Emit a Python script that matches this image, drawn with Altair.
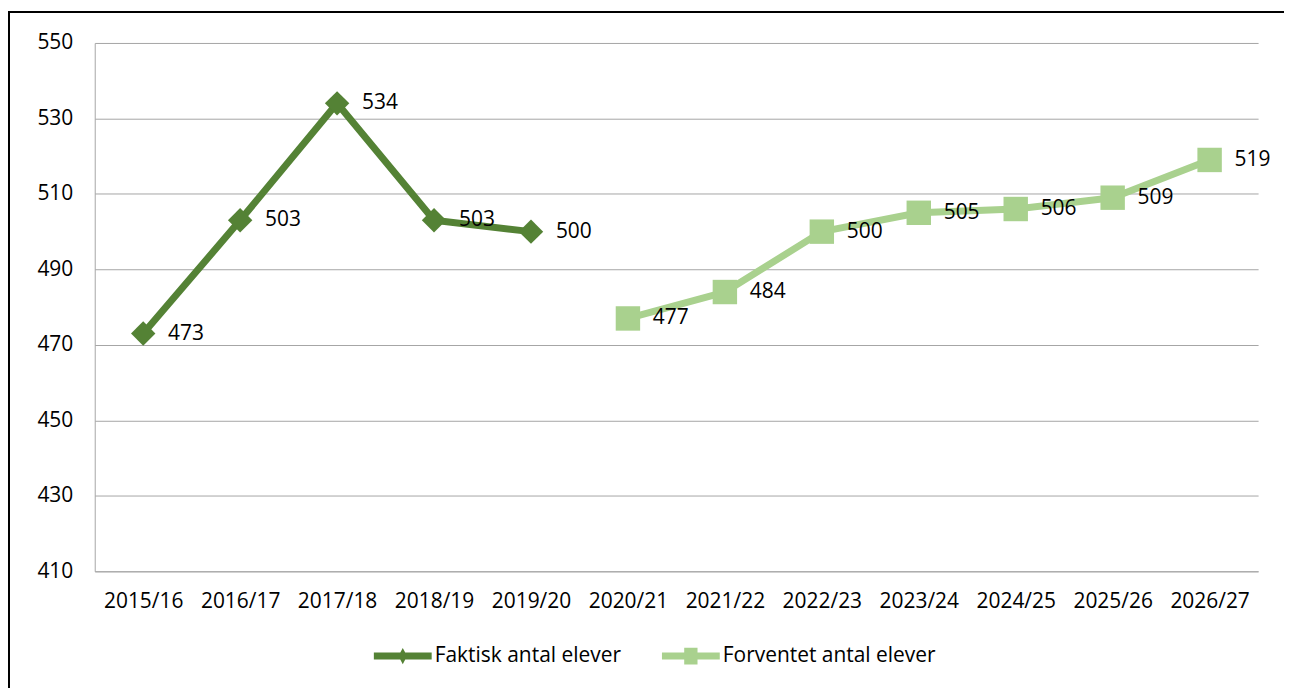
import altair as alt
import pandas as pd

categories = ["2015/16", "2016/17", "2017/18", "2018/19", "2019/20", "2020/21",
              "2021/22", "2022/23", "2023/24", "2024/25", "2025/26", "2026/27"]
actual_years = ["2015/16", "2016/17", "2017/18", "2018/19", "2019/20"]
actual_values = [473, 503, 534, 503, 500]
forecast_years = ["2020/21", "2021/22", "2022/23", "2023/24", "2024/25", "2025/26", "2026/27"]
forecast_values = [477, 484, 500, 505, 506, 509, 519]
series_names = ["Faktisk antal elever", "Forventet antal elever"]
series_colors = ["#548235", "#A9D18E"]
y_ticks = [410, 430, 450, 470, 490, 510, 530, 550]

FONT = "Open Sans"
FS = 21
W, H = 1167, 530

df_a = pd.DataFrame({"year": actual_years, "value": actual_values})
df_f = pd.DataFrame({"year": forecast_years, "value": forecast_values})

x_enc = alt.X("year:N", sort=categories,
              scale=alt.Scale(type="point", domain=categories, padding=0.5),
              axis=alt.Axis(title=None, labelAngle=0, ticks=False, grid=False,
                            labelPadding=19, labelFontSize=FS, labelFont=FONT,
                            labelColor="black", domainColor="#a6a6a6", domainWidth=1))
y_enc = alt.Y("value:Q", scale=alt.Scale(domain=[410, 550], nice=False, zero=False),
              axis=alt.Axis(title=None, values=y_ticks, ticks=False, grid=True,
                            gridColor="#a6a6a6", gridWidth=1, labelPadding=22,
                            labelFontSize=FS, labelFont=FONT, labelColor="black",
                            domainColor="#a6a6a6", domainWidth=1))


def series_layers(df, color, shape):
    base = alt.Chart(df).encode(x=x_enc, y=y_enc)
    line = base.mark_line(color=color, strokeWidth=7, strokeJoin="round", strokeCap="round")
    pts = base.mark_point(shape=shape, filled=True, color=color, size=600, opacity=1)
    txt = base.mark_text(align="left", baseline="middle", dx=25, fontSize=FS,
                         font=FONT, color="black").encode(text="value:Q")
    return [line, pts, txt]


diamond_path = ("M-1,-0.12 L1,-0.12 L1,0.12 L-1,0.12 Z "
                "M-0.15,0 L0,-0.28 L0.15,0 L0,0.28 Z")
square_path = ("M-1,-0.12 L1,-0.12 L1,0.12 L-1,0.12 Z "
               "M-0.23,-0.29 L0.23,-0.29 L0.23,0.29 L-0.23,0.29 Z")

legend_cfg = alt.Legend(title=None, orient="none", legendX=280, legendY=586,
                        direction="horizontal", symbolSize=3364, symbolStrokeWidth=0,
                        labelFontSize=FS, labelFont=FONT, labelColor="black",
                        labelOffset=3, columnPadding=40, padding=0, labelLimit=0)

legend_layer = alt.Chart(pd.DataFrame({"series": series_names})).transform_filter(
    "false").mark_point(filled=True, opacity=1).encode(
    color=alt.Color("series:N", scale=alt.Scale(domain=series_names, range=series_colors),
                    legend=legend_cfg),
    shape=alt.Shape("series:N", scale=alt.Scale(domain=series_names,
                                                range=[diamond_path, square_path]),
                    legend=legend_cfg),
)

frame = alt.Chart(pd.DataFrame({"k": [0]})).mark_rect(
    filled=False, color="black", strokeWidth=2).encode(
    x=alt.value(-86), x2=alt.value(1400), y=alt.value(-31), y2=alt.value(900))

chart = alt.layer(
    *series_layers(df_a, series_colors[0], "diamond"),
    *series_layers(df_f, series_colors[1], "square"),
    legend_layer,
    frame,
).properties(
    width=W, height=H,
    autosize="none",
    padding={"left": 87, "top": 34, "right": 26, "bottom": 116},
).configure_view(stroke=None)

chart.save("out.html", embed_options={"renderer": "svg", "actions": False})
